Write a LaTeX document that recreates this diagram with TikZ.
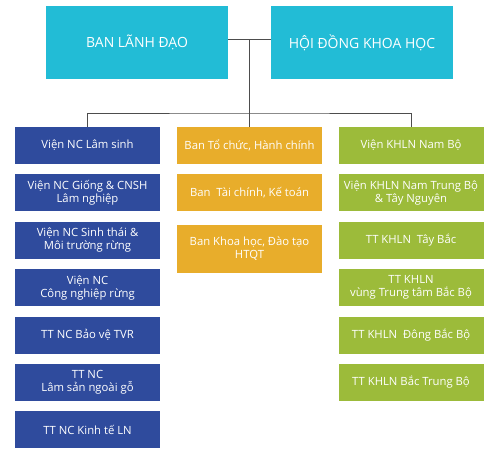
\documentclass[tikz,border=0pt]{standalone}
\usepackage{fontspec}
\setmainfont{Open Sans}
\usetikzlibrary{positioning}
\definecolor{topcyan}{HTML}{22BCD6}
\definecolor{instblue}{HTML}{2F4B9D}
\definecolor{boardorange}{HTML}{E8AD2B}
\definecolor{centregreen}{HTML}{9CBB3A}
\definecolor{linegray}{HTML}{4D4D4D}
\begin{document}
\begin{tikzpicture}[x=1pt, y=-1pt, node distance=10pt,
  every node/.style={font=\fontsize{11.3}{13}\selectfont, text=white},
  unit/.style={align=center, minimum width=145pt, minimum height=37pt, inner sep=0pt},
  headbox/.style={fill=topcyan, align=center, minimum width=182pt, minimum height=73pt, font=\fontsize{14}{16}\selectfont},
  blueunit/.style={unit, fill=instblue},
  orangeunit/.style={unit, fill=boardorange},
  greenunit/.style={unit, fill=centregreen},
  link/.style={draw=linegray, line width=0.8pt}]
\useasboundingbox (0,0) rectangle (500,456);
\node[headbox] (lead) at (137,42.5) {BAN LÃNH ĐẠO};
\node[headbox] (council) at (362,42.5) {HỘI ĐỒNG KHOA HỌC};
% left column
\node[blueunit] (inst1) at (87.5,145.5) {Viện NC Lâm sinh};
\node[blueunit, below=of inst1] (inst2) {Viện NC Giống \& CNSH\\Lâm nghiệp};
\node[blueunit, below=of inst2] (inst3) {Viện NC Sinh thái \&\\Môi trường rừng};
\node[blueunit, below=of inst3] (inst4) {Viện NC\\Công nghiệp rừng};
\node[blueunit, below=of inst4] (inst5) {TT NC Bảo vệ TVR};
\node[blueunit, below=of inst5] (inst6) {TT NC\\Lâm sản ngoài gỗ};
\node[blueunit, below=of inst6] (inst7) {TT NC Kinh tế LN};
% middle column
\node[orangeunit] (board1) at (249.5,145.5) {Ban Tổ chức, Hành chính};
\node[orangeunit, below=of board1] (board2) {Ban\ \ Tài chính, Kế toán};
\node[orangeunit, below=13pt of board2, minimum height=48pt] (board3) {Ban Khoa học, Đào tạo\\HTQT};
% right column
\node[greenunit] (ctr1) at (411,145.5) {Viện KHLN Nam Bộ};
\node[greenunit, below=of ctr1] (ctr2) {Viện KHLN Nam Trung Bộ\\\& Tây Nguyên};
\node[greenunit, below=of ctr2] (ctr3) {TT KHLN\ \ Tây Bắc};
\node[greenunit, below=of ctr3] (ctr4) {TT KHLN\\vùng Trung tâm Bắc Bộ};
\node[greenunit, below=of ctr4] (ctr5) {TT KHLN\ \ Đông Bắc Bộ};
\node[greenunit, below=of ctr5] (ctr6) {TT KHLN Bắc Trung Bộ};
% connectors
\coordinate (leadjoin) at ([yshift=3.5pt]lead.east);
\coordinate (counciljoin) at ([yshift=3.5pt]council.west);
\coordinate (bus) at (249.5,113);
\draw[link] (leadjoin) -- (counciljoin);
\draw[link] (board1.north) -- (board1.north |- leadjoin);
\draw[link] (inst1.north) |- (bus) -| (ctr1.north);
\end{tikzpicture}
\end{document}
